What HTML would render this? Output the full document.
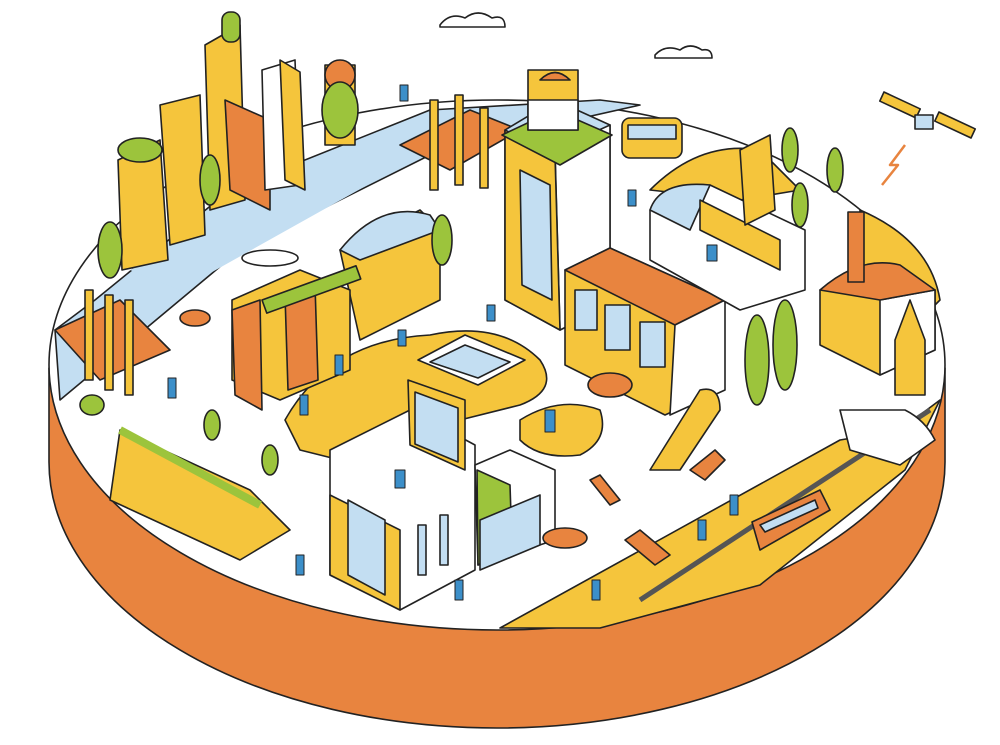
<!DOCTYPE html>
<html><head><meta charset="utf-8"><style>html,body{margin:0;padding:0;background:#fff}svg{display:block}</style></head><body>
<svg width="1000" height="745" viewBox="0 0 1000 745" xmlns="http://www.w3.org/2000/svg" stroke="#222" stroke-width="1.6" stroke-linejoin="round">
<defs></defs>
<!-- base -->
<path d="M49,368 L49,462 A448,266 0 0 0 945,462 L945,368 Z" fill="#e8843f"/>
<ellipse cx="497" cy="365" rx="448" ry="265" fill="#fff"/>
<!-- river -->
<path d="M55,330 L60,400 L240,250 L440,150 L640,105 L600,100 L430,110 L230,190 L95,300 Z" fill="#c3def2"/>
<path d="M130,270 L380,140 L430,150 L180,290 Z" fill="#c3def2" stroke="none"/>
<!-- road bottom right -->
<path d="M500,628 L840,440 L900,430 L940,400 L905,470 L760,585 L600,628 Z" fill="#f5c53c"/>
<path d="M640,600 L930,410" stroke="#555" stroke-width="5" fill="none"/>
<!-- yellow ground patches -->
<path d="M285,420 Q330,340 430,335 Q500,320 540,360 Q560,390 520,405 L460,420 L380,470 L300,450 Z" fill="#f5c53c"/>
<path d="M520,420 Q560,395 600,410 Q610,440 580,455 Q540,460 520,440 Z" fill="#f5c53c"/>
<path d="M650,190 Q700,140 760,150 L800,190 L740,200 Z" fill="#f5c53c"/>
<path d="M860,210 Q930,240 940,300 L900,340 L860,300 Z" fill="#f5c53c"/>
<!-- left hill -->
<path d="M120,430 L250,490 L290,530 L240,560 L110,500 Z" fill="#f5c53c"/>
<path d="M120,430 L260,505" stroke="#9cc43c" stroke-width="8"/>
<!-- skyscrapers top left -->
<path d="M118,160 L160,140 L168,260 L122,270 Z" fill="#f5c53c"/>
<ellipse cx="140" cy="150" rx="22" ry="12" fill="#9cc43c"/>
<path d="M160,105 L200,95 L205,235 L170,245 Z" fill="#f5c53c"/>
<path d="M205,45 L240,25 L245,200 L210,210 Z" fill="#f5c53c"/>
<rect x="222" y="12" width="18" height="30" rx="8" fill="#9cc43c"/>
<path d="M225,100 L270,120 L270,210 L230,190 Z" fill="#e8843f"/>
<path d="M262,70 L295,60 L300,185 L265,190 Z" fill="#fff"/>
<path d="M280,60 L300,72 L305,190 L285,180 Z" fill="#f5c53c"/>
<rect x="325" y="65" width="30" height="80" fill="#f5c53c"/>
<circle cx="340" cy="75" r="15" fill="#e8843f"/>
<circle cx="340" cy="120" r="15" fill="#e8843f"/>
<ellipse cx="340" cy="110" rx="18" ry="28" fill="#9cc43c"/>
<!-- bridges -->
<path d="M400,145 L470,110 L520,130 L450,170 Z" fill="#e8843f"/>
<rect x="430" y="100" width="8" height="90" fill="#f5c53c"/>
<rect x="455" y="95" width="8" height="90" fill="#f5c53c"/>
<rect x="480" y="108" width="8" height="80" fill="#f5c53c"/>
<path d="M55,330 L120,300 L170,350 L100,380 Z" fill="#e8843f"/>
<rect x="85" y="290" width="8" height="90" fill="#f5c53c"/>
<rect x="105" y="295" width="8" height="95" fill="#f5c53c"/>
<rect x="125" y="300" width="8" height="95" fill="#f5c53c"/>
<!-- station / tunnel mid-left -->
<path d="M340,250 L420,210 L440,230 L440,300 L360,340 Z" fill="#f5c53c"/>
<path d="M340,250 Q380,200 430,215 L440,230 L360,260 Z" fill="#c3def2"/>
<path d="M232,300 L300,270 L350,290 L350,370 L280,400 L232,380 Z" fill="#f5c53c"/>
<path d="M232,310 L260,300 L262,410 L235,395 Z" fill="#e8843f"/>
<path d="M285,295 L315,285 L318,380 L288,390 Z" fill="#e8843f"/>
<rect x="262" y="300" width="100" height="14" transform="rotate(-20 262 300)" fill="#9cc43c"/>
<!-- central tower -->
<path d="M505,130 L555,100 L610,125 L610,305 L560,330 L505,300 Z" fill="#c3def2"/>
<path d="M555,150 L610,125 L610,305 L560,330 Z" fill="#fff"/>
<path d="M505,130 L555,155 L560,330 L505,300 Z" fill="#f5c53c"/>
<path d="M520,170 L550,185 L552,300 L522,285 Z" fill="#c3def2"/>
<path d="M502,135 L555,110 L612,135 L560,165 Z" fill="#9cc43c"/>
<rect x="528" y="70" width="50" height="60" fill="#f5c53c"/>
<rect x="528" y="100" width="50" height="30" fill="#fff"/>
<path d="M540,80 Q555,65 570,80 Z" fill="#e8843f"/>
<!-- bus -->
<rect x="622" y="118" width="60" height="40" rx="8" fill="#f5c53c"/>
<rect x="628" y="125" width="48" height="14" fill="#c3def2"/>
<!-- orange-roof building -->
<path d="M565,270 L610,248 L725,300 L720,390 L665,415 L565,365 Z" fill="#f5c53c"/>
<path d="M565,270 L610,248 L725,300 L675,325 Z" fill="#e8843f"/>
<path d="M675,325 L725,300 L725,390 L670,415 Z" fill="#fff"/>
<rect x="575" y="290" width="22" height="40" fill="#c3def2"/>
<rect x="605" y="305" width="25" height="45" fill="#c3def2"/>
<rect x="640" y="322" width="25" height="45" fill="#c3def2"/>
<!-- back building with panels -->
<path d="M650,210 L710,185 L805,230 L805,290 L740,310 L650,260 Z" fill="#fff"/>
<path d="M650,210 Q660,180 710,185 L690,230 Z" fill="#c3def2"/>
<path d="M700,200 L780,240 L780,270 L700,230 Z" fill="#f5c53c"/>
<path d="M740,150 L770,135 L775,210 L745,225 Z" fill="#f5c53c"/>
<!-- factory right -->
<path d="M820,290 L880,265 L935,290 L935,350 L880,375 L820,345 Z" fill="#f5c53c"/>
<path d="M880,300 L935,290 L935,350 L880,375 Z" fill="#fff"/>
<path d="M820,290 Q860,255 900,265 L935,290 L880,300 Z" fill="#e8843f"/>
<rect x="848" y="212" width="16" height="70" fill="#e8843f"/>
<path d="M895,340 L910,300 L925,340 L925,395 L895,395 Z" fill="#f5c53c"/>
<!-- trees -->
<g fill="#9cc43c">
<ellipse cx="757" cy="360" rx="12" ry="45"/><ellipse cx="785" cy="345" rx="12" ry="45"/>
<ellipse cx="790" cy="150" rx="8" ry="22"/><ellipse cx="835" cy="170" rx="8" ry="22"/><ellipse cx="800" cy="205" rx="8" ry="22"/>
<ellipse cx="212" cy="425" rx="8" ry="15"/><ellipse cx="270" cy="460" rx="8" ry="15"/>
<ellipse cx="110" cy="250" rx="12" ry="28"/><ellipse cx="210" cy="180" rx="10" ry="25"/>
<ellipse cx="92" cy="405" rx="12" ry="10"/>
<ellipse cx="442" cy="240" rx="10" ry="25"/>
</g>
<!-- slide / ramp -->
<path d="M650,470 L700,390 Q720,385 720,410 L680,470 Z" fill="#f5c53c"/>
<!-- front building -->
<path d="M330,450 L410,410 L475,445 L475,570 L400,610 L330,575 Z" fill="#fff"/>
<path d="M330,495 L400,530 L400,610 L330,575 Z" fill="#f5c53c"/>
<path d="M348,500 L385,520 L385,595 L348,575 Z" fill="#c3def2"/>
<path d="M408,380 L465,400 L465,470 L410,445 Z" fill="#f5c53c"/>
<path d="M415,392 L458,408 L458,462 L415,444 Z" fill="#c3def2"/>
<path d="M418,360 L465,335 L525,360 L478,385 Z" fill="#fff"/>
<path d="M430,362 L465,345 L510,362 L478,378 Z" fill="#c3def2"/>
<rect x="418" y="525" width="8" height="50" fill="#c3def2"/>
<rect x="440" y="515" width="8" height="50" fill="#c3def2"/>
<path d="M475,465 L510,450 L555,470 L555,540 L478,565 Z" fill="#fff"/>
<path d="M477,470 L510,485 L512,545 L478,565 Z" fill="#9cc43c"/>
<path d="M480,520 L540,495 L540,545 L480,570 Z" fill="#c3def2"/>
<!-- cars -->
<ellipse cx="565" cy="538" rx="22" ry="10" fill="#e8843f"/>
<ellipse cx="610" cy="385" rx="22" ry="12" fill="#e8843f"/>
<path d="M690,470 L715,450 L725,460 L705,480 Z" fill="#e8843f"/>
<!-- train -->
<path d="M752,522 L820,490 L830,510 L760,550 Z" fill="#e8843f"/>
<path d="M760,525 L815,500 L818,508 L765,532 Z" fill="#c3def2"/>
<path d="M840,410 L905,410 Q925,420 935,440 L900,465 L850,450 Z" fill="#fff"/>
<!-- boats -->
<ellipse cx="195" cy="318" rx="15" ry="8" fill="#e8843f"/>
<ellipse cx="270" cy="258" rx="28" ry="8" fill="#fff"/>
<!-- stairs orange -->
<path d="M625,540 L640,530 L670,555 L655,565 Z" fill="#e8843f"/>
<path d="M590,480 L600,475 L620,500 L610,505 Z" fill="#e8843f"/>
<!-- clouds -->
<path d="M440,25 Q450,12 465,18 Q478,8 492,18 Q505,14 505,27 L440,27 Z" fill="#fff"/>
<path d="M655,55 Q665,44 680,50 Q690,42 702,50 Q712,48 712,58 L655,58 Z" fill="#fff"/>
<!-- satellite -->
<rect x="880" y="100" width="40" height="10" transform="rotate(25 900 105)" fill="#f5c53c"/>
<rect x="935" y="120" width="40" height="10" transform="rotate(25 955 125)" fill="#f5c53c"/>
<rect x="915" y="115" width="18" height="14" fill="#c3def2"/>
<path d="M905,145 L890,165 L898,165 L882,185" fill="none" stroke="#e8843f" stroke-width="2.5"/>
<!-- people (small blue) -->
<g fill="#3c8fc9" stroke-width="1">
<rect x="300" y="395" width="8" height="20"/><rect x="335" y="355" width="8" height="20"/><rect x="545" y="410" width="10" height="22"/>
<rect x="455" y="580" width="8" height="20"/><rect x="592" y="580" width="8" height="20"/><rect x="698" y="520" width="8" height="20"/>
<rect x="730" y="495" width="8" height="20"/><rect x="398" y="330" width="8" height="16"/><rect x="487" y="305" width="8" height="16"/>
<rect x="395" y="470" width="10" height="18"/><rect x="296" y="555" width="8" height="20"/><rect x="707" y="245" width="10" height="16"/>
<rect x="168" y="378" width="8" height="20"/><rect x="400" y="85" width="8" height="16"/><rect x="628" y="190" width="8" height="16"/>
</g>
</svg>
</body></html>
